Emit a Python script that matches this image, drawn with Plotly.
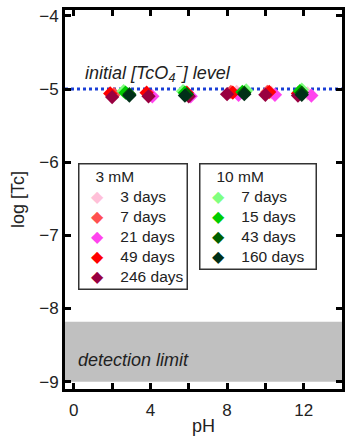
import plotly.graph_objects as go

# pH values and log[Tc] for each series (3 mM and 10 mM initial TcO4-)
ph_3mM_3d = [8.5, 10.3, 12.2]
tc_3mM_3d = [-5.04, -5.05, -5.06]
ph_3mM_7d = [2.1, 8.2, 10.1]
tc_3mM_7d = [-5.07, -5.04, -5.04]
ph_3mM_21d = [4.1, 6.1, 8.6, 10.5, 12.4]
tc_3mM_21d = [-5.10, -5.10, -5.08, -5.08, -5.09]
ph_3mM_49d = [1.9, 3.8, 5.9, 8.3, 10.2, 11.7]
tc_3mM_49d = [-5.06, -5.05, -5.05, -5.05, -5.04, -5.06]
ph_3mM_246d = [2.0, 3.9, 6.0, 8.0, 10.0, 11.7]
tc_3mM_246d = [-5.11, -5.10, -5.10, -5.07, -5.08, -5.09]

ph_10mM_7d = [2.6, 5.7, 9.0, 11.9]
tc_10mM_7d = [-5.03, -5.03, -5.02, -5.01]
ph_10mM_15d = [2.7, 5.8, 8.8, 11.8]
tc_10mM_15d = [-5.05, -5.05, -5.04, -5.03]
ph_10mM_43d = [2.9, 5.9, 8.9, 11.9]
tc_10mM_43d = [-5.07, -5.07, -5.05, -5.05]
ph_10mM_160d = [2.9, 5.8, 8.9, 11.9]
tc_10mM_160d = [-5.09, -5.09, -5.07, -5.08]

initial_level = -5.0
detection_top = -8.18
detection_bottom = -9.0

group_3mM = "3 mM"
group_10mM = "10 mM"

series = [
    ("3 days", ph_3mM_3d, tc_3mM_3d, "#ffc0d8", group_3mM),
    ("7 days", ph_3mM_7d, tc_3mM_7d, "#ff5050", group_3mM),
    ("21 days", ph_3mM_21d, tc_3mM_21d, "#ff44ee", group_3mM),
    ("49 days", ph_3mM_49d, tc_3mM_49d, "#ff0000", group_3mM),
    ("246 days", ph_3mM_246d, tc_3mM_246d, "#990040", group_3mM),
    ("7 days", ph_10mM_7d, tc_10mM_7d, "#80ff80", group_10mM),
    ("15 days", ph_10mM_15d, tc_10mM_15d, "#00cc00", group_10mM),
    ("43 days", ph_10mM_43d, tc_10mM_43d, "#006000", group_10mM),
    ("160 days", ph_10mM_160d, tc_10mM_160d, "#003018", group_10mM),
]

FONT = "Liberation Sans, Arial, sans-serif"
TEXT = "#222"

fig = go.Figure()
for name, xs, ys, color, group in series:
    fig.add_trace(go.Scatter(
        x=xs, y=ys, mode="markers", name=name, legendgroup=group,
        showlegend=False,
        marker=dict(symbol="diamond", size=11, color=color, line=dict(width=0)),
        hoverinfo="skip",
    ))

# detection-limit band
fig.add_shape(type="rect", xref="paper", yref="y", x0=0, x1=1,
              y0=detection_bottom, y1=detection_top,
              fillcolor="#c0c0c0", line=dict(width=0), layer="below")
# initial pertechnetate level
fig.add_shape(type="line", xref="paper", yref="y", x0=0, x1=1,
              y0=initial_level, y1=initial_level,
              line=dict(color="#1a3fd6", width=3, dash="dot"), layer="below")

fig.add_annotation(x=0.46, y=-4.78, xref="x", yref="y", xanchor="left",
                   text="<i>initial [TcO<sub>4</sub><sup>−</sup>] level</i>",
                   showarrow=False, font=dict(family=FONT, size=18, color=TEXT))
fig.add_annotation(x=0.1, y=-8.7, xref="x", yref="y", xanchor="left",
                   text="<i>detection limit</i>",
                   showarrow=False, font=dict(family=FONT, size=18, color=TEXT))


def legend_box(group, x_paper, right_pad):
    """Boxed key listing one concentration group with its colour diamonds."""
    nb = "&nbsp;"
    lines = [nb * 3 + group]
    for name, _, _, color, g in series:
        if g != group:
            continue
        lines.append(nb * 2 + f'<span style="color:{color}">◆</span>' + nb * 4 + name)
    fig.add_annotation(
        x=x_paper, y=0.597, xref="paper", yref="paper",
        xanchor="left", yanchor="top", align="left", showarrow=False,
        text="<br>".join(lines) + nb * right_pad,
        font=dict(family=FONT, size=15.5, color=TEXT),
        bgcolor="white", bordercolor="#333", borderwidth=1.5, borderpad=3,
    )


legend_box(group_3mM, 0.046, 0)
legend_box(group_10mM, 0.482, 2)

axis_common = dict(
    showline=True, linecolor="black", linewidth=3, mirror="allticks",
    ticks="inside", ticklen=6, tickwidth=3, tickcolor="black",
    showgrid=False, zeroline=False,
    tickfont=dict(family=FONT, size=17, color=TEXT),
)

fig.update_xaxes(range=[-0.46, 14], dtick=4, tick0=0, ticklabelstandoff=4,
                 minor=dict(dtick=2, tick0=0, ticks="inside", ticklen=6,
                            tickwidth=3, tickcolor="black", showgrid=False),
                 title=dict(text="pH", font=dict(family=FONT, size=18, color=TEXT), standoff=0),
                 **axis_common)
fig.update_yaxes(range=[-9.1, -3.92], dtick=1, ticklabelstandoff=0,
                 title=dict(text="log [Tc]", font=dict(family=FONT, size=18, color=TEXT), standoff=10),
                 **axis_common)

fig.update_layout(
    width=346, height=441,
    margin=dict(l=65, r=1, t=10, b=52),
    paper_bgcolor="white", plot_bgcolor="white",
    showlegend=False,
)

fig.write_html("out.html")
